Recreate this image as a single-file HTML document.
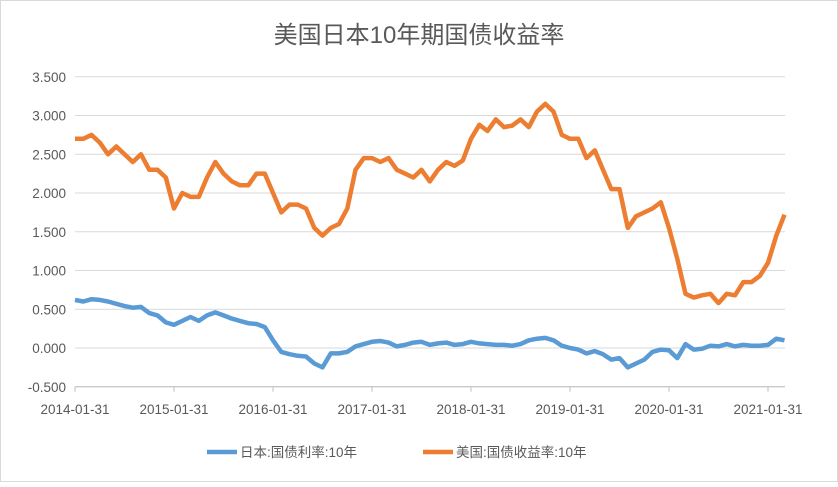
<!DOCTYPE html>
<html><head><meta charset="utf-8"><style>
body{margin:0;background:#fff;}
#c{width:838px;height:482px;position:relative;font-family:"Liberation Sans","Noto Sans CJK SC",sans-serif;}
</style></head><body>
<div id="c">
<svg id="s" width="838" height="482"></svg>
</div>
<script>
const xTickLabels=["2014-01-31","2015-01-31","2016-01-31","2017-01-31","2018-01-31","2019-01-31","2020-01-31","2021-01-31"];
const yTicks=[3.5,3.0,2.5,2.0,1.5,1.0,0.5,0,-0.5];
const usYield=[2.70,2.70,2.75,2.65,2.50,2.60,2.50,2.40,2.50,2.30,2.30,2.20,
1.80,2.00,1.95,1.95,2.20,2.40,2.25,2.15,2.10,2.10,2.25,2.25,
2.00,1.75,1.85,1.85,1.80,1.55,1.45,1.55,1.60,1.80,2.30,2.45,
2.45,2.40,2.45,2.30,2.25,2.20,2.30,2.15,2.30,2.40,2.35,2.42,
2.70,2.88,2.80,2.95,2.85,2.87,2.95,2.85,3.05,3.15,3.05,2.75,
2.70,2.70,2.45,2.55,2.30,2.05,2.05,1.55,1.70,1.75,1.80,1.88,
1.55,1.15,0.70,0.65,0.68,0.70,0.58,0.70,0.68,0.85,0.85,0.93,
1.10,1.45,1.72];
const jpYield=[0.62,0.60,0.63,0.62,0.60,0.57,0.54,0.52,0.53,0.45,0.42,0.33,
0.30,0.35,0.40,0.35,0.42,0.46,0.42,0.38,0.35,0.32,0.31,0.27,
0.10,-0.05,-0.08,-0.10,-0.11,-0.20,-0.25,-0.07,-0.07,-0.05,0.02,0.05,
0.08,0.09,0.07,0.02,0.04,0.07,0.08,0.04,0.06,0.07,0.04,0.05,
0.08,0.06,0.05,0.04,0.04,0.03,0.05,0.10,0.12,0.13,0.10,0.03,
0.00,-0.02,-0.07,-0.04,-0.08,-0.15,-0.13,-0.25,-0.20,-0.15,-0.05,-0.02,
-0.03,-0.13,0.05,-0.02,-0.01,0.03,0.02,0.05,0.02,0.04,0.03,0.03,
0.04,0.12,0.10];
const NS="http://www.w3.org/2000/svg";
const s=document.getElementById('s');
const X0=75,PX=8.25,Y0=348,PY=77.5,L=75,R=785;
const xs=i=>X0+i*PX, ys=v=>Y0-v*PY;
function mk(t,a,txt){const e=document.createElementNS(NS,t);for(const k in a)e.setAttribute(k,a[k]);if(txt!==undefined)e.textContent=txt;s.appendChild(e);return e;}
let b=mk('rect',{x:0.5,y:0.5,width:837,height:481,fill:'#fff',stroke:'#d9d9d9'});

let t=mk('text',{x:419,y:43,'text-anchor':'middle','font-size':24,fill:'#595959'},'美国日本10年期国债收益率');

yTicks.forEach(v=>{
 let g=mk('line',{x1:L,x2:R,y1:ys(v),y2:ys(v),stroke:'#d9d9d9','stroke-width':1});
 
 let l=mk('text',{x:66,y:ys(v)+5,'text-anchor':'end','font-size':13.5,fill:'#595959'},v.toFixed(3));
 
});
let ax=mk('line',{x1:L,x2:R,y1:ys(-0.5),y2:ys(-0.5),stroke:'#bfbfbf'});

xTickLabels.forEach((lab,i)=>{
 const x=xs(i*12);
 let tk=mk('line',{x1:x,x2:x,y1:ys(-0.5),y2:ys(-0.5)+5,stroke:'#bfbfbf'});
 
 let l=mk('text',{x:x,y:414,'text-anchor':'middle','font-size':13.5,fill:'#595959'},lab);
 
});
function line(arr,col,name){
 const d=arr.map((v,i)=>(i?'L':'M')+xs(i).toFixed(1)+','+ys(v).toFixed(1)).join('');
 let p=mk('path',{d:d,fill:'none',stroke:col,'stroke-width':4.5,'stroke-linejoin':'round'});
 
}
line(jpYield,'#5b9bd5','japan-10y-line');
line(usYield,'#ed7d31','us-10y-line');
let l1=mk('line',{x1:207,x2:237,y1:452,y2:452,stroke:'#5b9bd5','stroke-width':4.5});

let t1=mk('text',{x:240,y:457,'font-size':13.5,fill:'#595959'},'日本:国债利率:10年');

let l2=mk('line',{x1:423,x2:453,y1:452,y2:452,stroke:'#ed7d31','stroke-width':4.5});

let t2=mk('text',{x:456,y:457,'font-size':13.5,fill:'#595959'},'美国:国债收益率:10年');

</script>
</body></html>
